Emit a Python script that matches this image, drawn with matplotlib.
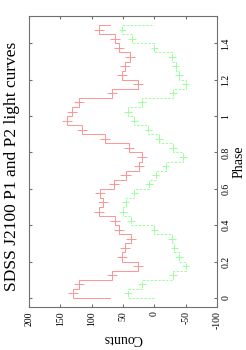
import numpy as np
import matplotlib
matplotlib.use('Agg')
import matplotlib.pyplot as plt

plt.rcParams['font.family'] = ['Liberation Serif', 'DejaVu Serif']
plt.rcParams['axes.unicode_minus'] = False

# phase bins (width 0.05) and counts
phase = np.arange(0.025, 1.5, 0.05)
p1_counts = [130, 121, 68, 26, 52, 47, 38, 57, 62, 88,
             82, 86, 64, 46, 24, 19, 41, 79, 116, 139,
             132, 121, 68, 26, 52, 47, 39, 57, 62, 89]
p2_counts = [42, 20, -30, -50, -39, -32, -28, 0, 37, 50,
             46, 32, 8.5, -2, -18, -46, -30, -7.5, 9.5, 32,
             42, 20, -30, -50, -39, -34, -28, 0, 36, 51]
p1_ends = 70   # value the step line starts and ends at
p2_ends = 0
p1_err = 8
p2_err = 6
phase_err = 0.015
bin_w = 0.05

count_ticks = [200, 150, 100, 50, 0, -50, -100]
phase_ticks = [0, 0.2, 0.4, 0.6, 0.8, 1, 1.2, 1.4]
phase_labels = ['0', '0.2', '0.4', '0.6', '0.8', '1', '1.2', '1.4']


def step_path(vals, ends):
    xs, ys = [ends], [0.0]
    for c, v in zip(phase, vals):
        xs += [v, v]
        ys += [c - bin_w / 2, c + bin_w / 2]
    xs.append(ends)
    ys.append(phase[-1] + bin_w / 2)
    return xs, ys


red = '#ff9494'
green = '#9cff9c'

fig = plt.figure(figsize=(2.46, 3.5), dpi=100)
ax = fig.add_axes([0.118, 0.123, 0.764, 0.831])

x1, y1 = step_path(p1_counts, p1_ends)
ax.plot(x1, y1, color=red, lw=0.7)
ax.errorbar(p1_counts, phase, xerr=p1_err, yerr=phase_err, fmt='none',
            ecolor=red, elinewidth=0.7, capsize=0)

x2, y2 = step_path(p2_counts, p2_ends)
ax.plot(x2, y2, color=green, lw=0.7, ls=(0, (2.5, 1.5)))
ax.errorbar(p2_counts, phase, xerr=p2_err, yerr=phase_err, fmt='none',
            ecolor=green, elinewidth=0.7, capsize=0)

ax.set_xlim(200, -100)
ax.set_ylim(-0.05, 1.55)

ax.set_xticks(count_ticks)
ax.set_xticklabels([str(t) for t in count_ticks], rotation=90, fontsize=7)
ax.set_yticks(phase_ticks)
ax.set_yticklabels(phase_labels, rotation=90, fontsize=7, va='center')

frame = '#707070'
for s in ax.spines.values():
    s.set_color(frame)
    s.set_linewidth(0.8)
ax.tick_params(axis='both', direction='in', length=2.5, width=0.8, color=frame,
               top=True, bottom=True, left=True, right=True,
               labelleft=False, labelright=True, pad=3)

ax.yaxis.set_label_position('right')
ax.set_ylabel('Phase', rotation=90, fontsize=10, labelpad=2)
ax.set_xlabel('Counts', rotation=180, fontsize=10, labelpad=2)

fig.text(0.05, 0.526, 'SDSS J2100 P1 and P2 light curves', rotation=90,
         fontsize=12.5, ha='center', va='center')

plt.savefig('out.png', dpi=100)
